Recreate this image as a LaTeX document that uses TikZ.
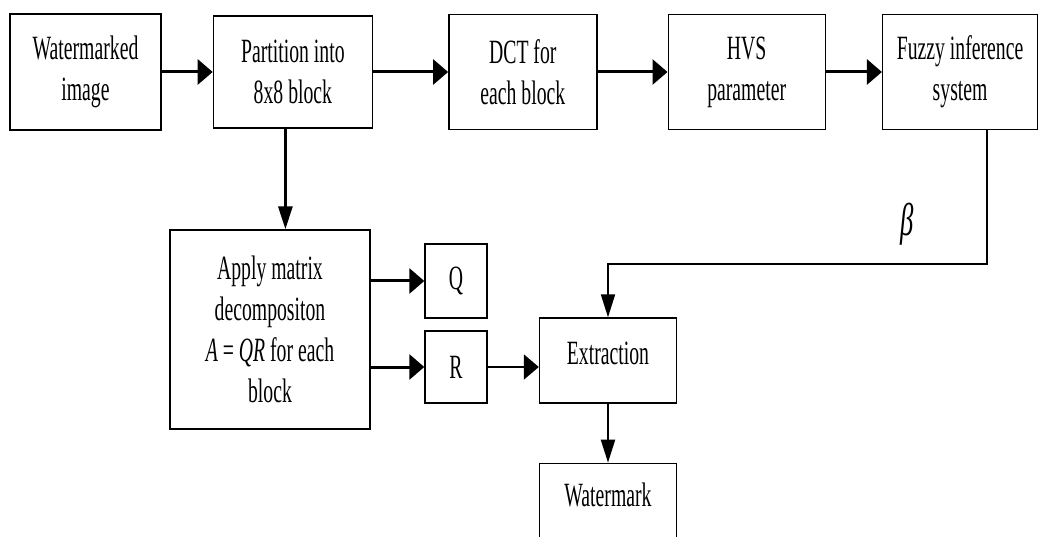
\documentclass[tikz,border=0pt]{standalone}
\usepackage{fontspec}
\setmainfont[FakeStretch=0.58]{Liberation Serif}
\usetikzlibrary{arrows.meta}
\usetikzlibrary{positioning}
\tikzset{
    hhead/.tip={Triangle[length=15pt,width=25pt]},
    vhead/.tip={Triangle[length=23pt,width=14pt]}
}

\begin{document}
\begin{tikzpicture}[
        x=1pt, y=-1pt,
        every node/.style={font=\fontsize{34}{41}\selectfont, align=center},
        box/.style={draw, line width=1.4pt, minimum height=115pt, inner sep=0pt},
        flow/.style={line width=3pt, -hhead},
        down/.style={line width=3pt, -vhead},
        thin/.style={line width=2pt}
    ]
    \useasboundingbox (0,0) rectangle (1039,537);
    \clip (0,0) rectangle (1039,537);

    % top row
    \node[box, minimum width=151pt, minimum height=116pt] (img) at (85.5,72) {Watermarked\\image};
    \node[box, right=51pt of img, minimum width=159pt, minimum height=112pt] (part) {Partition into\\8x8 block};
    \node[box, right=75pt of part, minimum width=148pt] (dct) {DCT for\\each block};
    \node[box, right=70pt of dct, minimum width=157pt] (hvs) {HVS\\parameter};
    \node[box, right=56pt of hvs, minimum width=155pt] (fis) {Fuzzy inference\\system};

    \draw[flow] (img) -- (part);
    \draw[flow] (part) -- (dct);
    \draw[flow] (dct) -- (hvs);
    \draw[flow] (hvs) -- (fis);

    % decomposition
    \node[box, minimum width=200pt, minimum height=199pt] (qr) at (270,329.5) {Apply matrix\\decompositon\\{\itshape A} = {\itshape QR} for each\\block};
    \node[box, minimum width=62pt, minimum height=74pt] (q) at (456,281) {Q};
    \node[box, minimum width=62pt, minimum height=72pt] (r) at (456,367) {R};

    \draw[down] ([xshift=-7.5pt]part.south) -- ([xshift=-7.5pt]part.south |- qr.north);
    \draw[flow] (qr.east |- q) -- (q);
    \draw[flow] (qr.east |- r) -- (r);

    % extraction
    \node[box, minimum width=137pt, minimum height=85pt, text depth=14pt] (ext) at (608,360.5) {Extraction};
    \node[box, below=59pt of ext, minimum width=137pt, minimum height=84pt, text depth=22pt] (wm) {Watermark};
    \node[font=\fontsize{46}{46}\selectfont] (beta) at (907,224) {\itshape β};
    \coordinate (turn) at (608,264);

    \draw[thin, -hhead] (r.east) -- (r.east -| ext.west);
    \draw[thin, -vhead] ([xshift=26.5pt]fis.south) |- (turn) -- (ext.north);
    \draw[thin, -vhead] (ext) -- (wm);
\end{tikzpicture}
\end{document}
